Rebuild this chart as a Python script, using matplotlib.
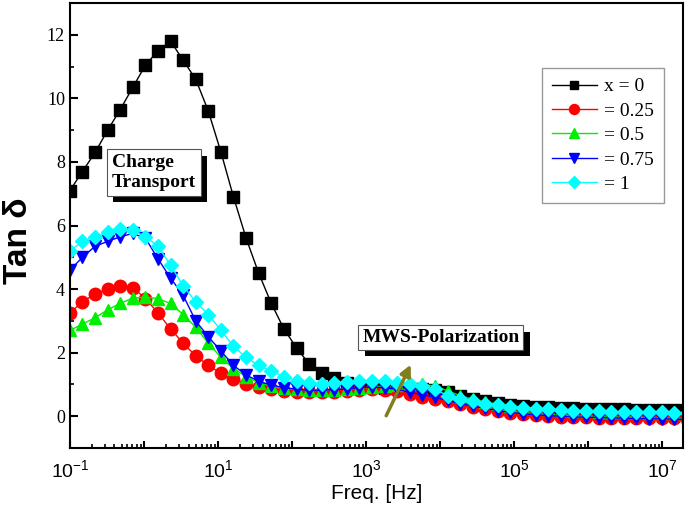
import matplotlib
matplotlib.use('Agg')
import matplotlib.pyplot as plt
import matplotlib.ticker as ticker
import matplotlib.patheffects as pe

plt.rcParams['mathtext.fontset'] = 'custom'
plt.rcParams['mathtext.rm'] = 'Liberation Sans'
plt.rcParams['mathtext.it'] = 'Liberation Sans:italic'
plt.rcParams['mathtext.bf'] = 'Liberation Sans:bold'

# measured sweep frequencies (Hz)
freq = [0.1, 0.148, 0.219, 0.324, 0.479, 0.708, 1.05, 1.55, 2.29, 3.39,
        5.01, 7.41, 11.0, 16.2, 24.0, 35.5, 52.5, 77.6, 115, 170,
        251, 372, 550, 813, 1200, 1780, 2630, 3890, 5750, 8510,
        12600, 18600, 27500, 40700, 60300, 89100, 132000, 195000, 288000, 427000,
        631000, 933000, 1.38e6, 2.04e6, 3.02e6, 4.47e6, 6.61e6, 9.77e6, 1.45e7, 2.14e7]

tan_x0 = [7.1, 7.7, 8.3, 9.0, 9.65, 10.35, 11.05, 11.5, 11.8, 11.2,
          10.6, 9.6, 8.3, 6.9, 5.6, 4.5, 3.55, 2.75, 2.15, 1.65,
          1.35, 1.2, 1.05, 0.95, 0.92, 0.9, 0.88, 0.87, 0.86, 0.82,
          0.75, 0.65, 0.55, 0.48, 0.42, 0.37, 0.33, 0.3, 0.28, 0.26,
          0.25, 0.24, 0.23, 0.22, 0.22, 0.21, 0.21, 0.2, 0.2, 0.2]

tan_x025 = [3.25, 3.6, 3.85, 4.0, 4.1, 4.05, 3.7, 3.25, 2.75, 2.3,
            1.9, 1.6, 1.35, 1.18, 1.02, 0.92, 0.85, 0.8, 0.77, 0.76,
            0.76, 0.77, 0.79, 0.82, 0.85, 0.83, 0.78, 0.7, 0.62, 0.55,
            0.47, 0.38, 0.3, 0.23, 0.17, 0.11, 0.07, 0.04, 0.01, -0.01,
            -0.02, -0.03, -0.04, -0.05, -0.05, -0.06, -0.06, -0.07, -0.07, -0.08]

tan_x05 = [2.7, 2.9, 3.1, 3.35, 3.55, 3.72, 3.75, 3.7, 3.55, 3.2,
           2.8, 2.3, 1.85, 1.5, 1.25, 1.05, 0.95, 0.88, 0.85, 0.83,
           0.83, 0.84, 0.86, 0.88, 0.92, 0.95, 0.98, 1.0, 1.0, 0.95,
           0.8, 0.65, 0.53, 0.45, 0.38, 0.32, 0.28, 0.25, 0.22, 0.2,
           0.18, 0.16, 0.15, 0.14, 0.13, 0.12, 0.11, 0.1, 0.1, 0.09]

tan_x075 = [4.6, 5.0, 5.35, 5.5, 5.65, 5.75, 5.6, 4.95, 4.35, 3.8,
            3.0, 2.5, 2.05, 1.6, 1.3, 1.1, 0.98, 0.9, 0.85, 0.82,
            0.82, 0.84, 0.86, 0.9, 0.92, 0.9, 0.85, 0.75, 0.68, 0.6,
            0.5, 0.4, 0.32, 0.25, 0.18, 0.12, 0.08, 0.05, 0.02, 0.0,
            -0.02, -0.03, -0.04, -0.05, -0.06, -0.07, -0.08, -0.08, -0.09, -0.1]

tan_x1 = [5.2, 5.5, 5.65, 5.8, 5.9, 5.85, 5.65, 5.35, 4.75, 4.1,
          3.6, 3.2, 2.7, 2.2, 1.85, 1.6, 1.42, 1.25, 1.12, 1.05,
          1.02, 1.05, 1.08, 1.1, 1.12, 1.1, 1.05, 1.0, 0.95, 0.85,
          0.65, 0.55, 0.47, 0.4, 0.35, 0.3, 0.27, 0.24, 0.22, 0.2,
          0.18, 0.17, 0.16, 0.15, 0.14, 0.13, 0.12, 0.12, 0.11, 0.1]

labels = ['x = 0', '= 0.25', '= 0.5', '= 0.75', '= 1']
colors = ['black', '#ff0000', '#00ee00', '#0000ff', '#00ffff']
markers = ['s', 'o', '^', 'v', 'D']
msizes = [8, 9, 9, 9, 7.5]
series = [tan_x0, tan_x025, tan_x05, tan_x075, tan_x1]

fig = plt.figure(figsize=(6.85, 5.08), dpi=100)
ax = fig.add_axes([0.102, 0.118, 0.895, 0.876])

for vals, lab, c, m, ms in zip(series, labels, colors, markers, msizes):
    ax.plot(freq, vals, color=c, marker=m, markersize=ms, markeredgecolor=c,
            linewidth=1.0, label=lab)

ax.set_xscale('log')
ax.set_xlim(0.1, 1.9e7)
ax.set_ylim(-1, 13)

ax.xaxis.set_major_locator(ticker.LogLocator(base=10, numticks=20))
ax.xaxis.set_minor_locator(ticker.LogLocator(base=10, subs=range(2, 10), numticks=20))

def xfmt(v, pos):
    import math
    e = int(round(math.log10(v)))
    if e % 2 == 0:
        return ''
    return r'$10^{%d}$' % e

ax.xaxis.set_major_formatter(ticker.FuncFormatter(xfmt))
ax.xaxis.set_minor_formatter(ticker.NullFormatter())
ax.yaxis.set_major_locator(ticker.MultipleLocator(2))
ax.yaxis.set_minor_locator(ticker.MultipleLocator(1))

ax.tick_params(axis='x', which='major', direction='in', length=5, width=1.5,
               labelsize=14, pad=8, top=False)
ax.tick_params(axis='x', which='minor', direction='in', length=3, width=1.2, top=False)
ax.tick_params(axis='y', which='major', direction='in', length=6, width=1.5,
               labelsize=13, right=False)
ax.tick_params(axis='y', which='minor', direction='in', length=3, width=1.2, right=False)
for t in ax.get_yticklabels():
    t.set_fontfamily('Liberation Serif')

for s in ax.spines.values():
    s.set_linewidth(1.5)

ax.set_xlabel('Freq. [Hz]', fontsize=15, fontfamily='Liberation Sans', labelpad=2)
ax.set_ylabel('Tan δ', fontsize=24, fontweight='bold', fontfamily='Liberation Sans')
ax.yaxis.set_label_coords(-0.058, 0.467)

leg = ax.legend(loc='upper right', bbox_to_anchor=(0.969, 0.854), borderaxespad=0,
                prop={'family': 'Liberation Serif', 'size': 14}, fancybox=False,
                edgecolor='#808080', handlelength=2.3, labelspacing=0.35,
                handletextpad=0.4, borderpad=0.5, markerscale=0.8)
leg.get_frame().set_linewidth(1.0)

shadow = [pe.withSimplePatchShadow(offset=(4.5, -4.5), shadow_rgbFace='black', alpha=1.0)]

t1 = ax.text(0.137, 0.619, 'Charge\nTransport', transform=ax.transAxes, ha='center',
             va='center', multialignment='left', fontsize=14, fontweight='bold',
             fontfamily='Liberation Serif',
             bbox=dict(boxstyle='square,pad=0.25', facecolor='white', edgecolor='#555555',
                       linewidth=0.8))
t1.get_bbox_patch().set_path_effects(shadow)

t2 = ax.text(0.605, 0.248, 'MWS-Polarization', transform=ax.transAxes, ha='center',
             va='center', fontsize=14, fontweight='bold', fontfamily='Liberation Serif',
             bbox=dict(boxstyle='square,pad=0.2', facecolor='white', edgecolor='#555555',
                       linewidth=0.8))
t2.get_bbox_patch().set_path_effects(shadow)

ax.annotate('', xy=(0.558, 0.193), xytext=(0.514, 0.067), xycoords='axes fraction',
            arrowprops=dict(arrowstyle='-|>', color='#827d1e', lw=2.5, mutation_scale=16))

fig.savefig('out.png', dpi=100)
